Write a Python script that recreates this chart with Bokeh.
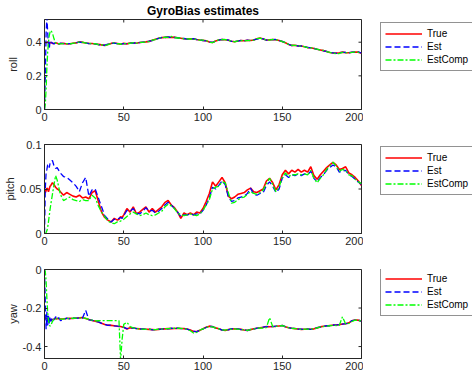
from bokeh.plotting import figure
from bokeh.models import Range1d, FixedTicker, Legend, LegendItem
from bokeh.layouts import column, row
from bokeh.embed import file_html
from bokeh.resources import INLINE

# ---------------- data ----------------
t = [0, 0.5, 1, 1.5, 2, 2.5, 3, 3.5, 4, 5, 6, 7, 8, 9, 10,
     12, 14, 16, 18, 20, 22, 24, 26, 28, 30, 32, 34, 36, 38, 40, 42, 44, 46,
     47, 48, 49,
     50, 52, 54, 56, 58, 60, 62, 64, 66, 68, 70, 72, 74,
     76, 78, 80, 82, 84, 86, 88, 90, 92, 94, 96, 98, 100,
     102, 104, 106, 108, 110, 112, 114, 116, 118, 120, 122, 124,
     126, 128, 130, 132, 134, 136, 138, 140, 142, 144, 146, 148, 150,
     152, 154, 156, 158, 160, 162, 164, 166, 168, 170, 172, 174,
     176, 178, 180, 182, 184, 186, 188, 190, 192, 194, 196, 198, 200]

roll_true = [0.400, 0.398, 0.396, 0.399, 0.401, 0.397, 0.394, 0.396, 0.399, 0.393, 0.392, 0.396, 0.394, 0.390, 0.392,
             0.393, 0.389, 0.391, 0.394, 0.396, 0.403, 0.399, 0.395, 0.393, 0.392, 0.389, 0.387, 0.384, 0.381, 0.386, 0.393, 0.395, 0.392,
             0.390, 0.388, 0.391,
             0.393, 0.390, 0.395, 0.397, 0.394, 0.398, 0.400, 0.402, 0.405, 0.411, 0.418, 0.424, 0.427,
             0.429, 0.430, 0.428, 0.430, 0.426, 0.424, 0.421, 0.419, 0.421, 0.420, 0.416, 0.413, 0.411,
             0.409, 0.401, 0.398, 0.407, 0.413, 0.416, 0.415, 0.412, 0.406, 0.403, 0.407, 0.410,
             0.409, 0.411, 0.410, 0.413, 0.420, 0.425, 0.419, 0.413, 0.414, 0.416, 0.415, 0.410, 0.404,
             0.397, 0.387, 0.381, 0.382, 0.378, 0.377, 0.373, 0.368, 0.367, 0.363, 0.358, 0.354,
             0.350, 0.345, 0.339, 0.336, 0.335, 0.337, 0.341, 0.338, 0.337, 0.340, 0.342, 0.341, 0.334]
roll_est = [0.0, 0.2, 0.45, 0.55, 0.46, 0.38, 0.36, 0.41, 0.405, 0.394, 0.390, 0.398, 0.392, 0.389, 0.394,
            0.392, 0.390, 0.392, 0.393, 0.397, 0.401, 0.398, 0.396, 0.392, 0.391, 0.390, 0.386, 0.383, 0.382, 0.388, 0.392, 0.394, 0.391,
            0.391, 0.389, 0.390,
            0.392, 0.391, 0.394, 0.396, 0.395, 0.397, 0.401, 0.401, 0.406, 0.410, 0.417, 0.423, 0.428,
            0.428, 0.431, 0.429, 0.428, 0.427, 0.423, 0.422, 0.418, 0.420, 0.421, 0.415, 0.414, 0.410,
            0.408, 0.402, 0.399, 0.406, 0.412, 0.417, 0.414, 0.413, 0.405, 0.404, 0.406, 0.411,
            0.408, 0.412, 0.409, 0.414, 0.419, 0.423, 0.420, 0.412, 0.415, 0.415, 0.416, 0.409, 0.405,
            0.396, 0.388, 0.380, 0.383, 0.377, 0.378, 0.372, 0.369, 0.366, 0.364, 0.357, 0.355,
            0.349, 0.346, 0.338, 0.337, 0.334, 0.338, 0.340, 0.339, 0.336, 0.341, 0.341, 0.342, 0.335]
roll_comp = [0.0, 0.03, 0.12, 0.25, 0.34, 0.40, 0.44, 0.46, 0.47, 0.455, 0.42, 0.395, 0.388, 0.392, 0.390,
             0.391, 0.392, 0.389, 0.395, 0.395, 0.402, 0.400, 0.394, 0.394, 0.390, 0.391, 0.385, 0.385, 0.380, 0.385, 0.392, 0.396, 0.390,
             0.392, 0.387, 0.392,
             0.391, 0.392, 0.393, 0.398, 0.393, 0.399, 0.399, 0.403, 0.404, 0.412, 0.416, 0.425, 0.426,
             0.430, 0.429, 0.434, 0.428, 0.425, 0.425, 0.420, 0.420, 0.419, 0.419, 0.417, 0.412, 0.412,
             0.410, 0.400, 0.397, 0.408, 0.414, 0.415, 0.416, 0.411, 0.407, 0.402, 0.408, 0.409,
             0.410, 0.410, 0.411, 0.412, 0.421, 0.424, 0.418, 0.414, 0.413, 0.417, 0.414, 0.411, 0.403,
             0.398, 0.386, 0.382, 0.381, 0.379, 0.376, 0.374, 0.367, 0.368, 0.362, 0.359, 0.353,
             0.351, 0.344, 0.340, 0.335, 0.332, 0.333, 0.340, 0.337, 0.338, 0.339, 0.343, 0.340, 0.333]

pitch_true = [0.049, 0.046, 0.048, 0.051, 0.050, 0.047, 0.050, 0.053, 0.054, 0.057, 0.055, 0.052, 0.050, 0.049, 0.047,
              0.043, 0.046, 0.044, 0.042, 0.041, 0.043, 0.040, 0.041, 0.039, 0.046, 0.048, 0.036, 0.024, 0.018, 0.015, 0.013, 0.017, 0.015,
              0.016, 0.019, 0.018,
              0.021, 0.028, 0.024, 0.030, 0.022, 0.024, 0.027, 0.030, 0.024, 0.028, 0.024, 0.027, 0.030,
              0.035, 0.037, 0.032, 0.029, 0.024, 0.017, 0.023, 0.021, 0.023, 0.021, 0.024, 0.023, 0.028,
              0.036, 0.045, 0.058, 0.053, 0.058, 0.063, 0.057, 0.042, 0.039, 0.041, 0.044, 0.045,
              0.046, 0.049, 0.051, 0.047, 0.046, 0.048, 0.050, 0.059, 0.062, 0.057, 0.049, 0.055, 0.066,
              0.071, 0.067, 0.071, 0.069, 0.072, 0.069, 0.071, 0.069, 0.075, 0.065, 0.061, 0.066,
              0.070, 0.074, 0.077, 0.080, 0.077, 0.072, 0.073, 0.075, 0.068, 0.066, 0.063, 0.059, 0.054]
pitch_est = [0.0, 0.05, 0.068, 0.072, 0.077, 0.078, 0.074, 0.079, 0.081, 0.082, 0.076, 0.073, 0.074, 0.071, 0.068,
             0.064, 0.063, 0.060, 0.057, 0.053, 0.047, 0.057, 0.063, 0.042, 0.049, 0.050, 0.040, 0.030, 0.020, 0.016, 0.013, 0.016, 0.016,
             0.017, 0.018, 0.017,
             0.020, 0.026, 0.025, 0.028, 0.023, 0.022, 0.025, 0.029, 0.025, 0.026, 0.023, 0.025, 0.028,
             0.032, 0.035, 0.032, 0.028, 0.024, 0.019, 0.021, 0.021, 0.022, 0.021, 0.022, 0.022, 0.026,
             0.032, 0.040, 0.052, 0.050, 0.054, 0.059, 0.055, 0.041, 0.036, 0.037, 0.040, 0.041,
             0.042, 0.045, 0.051, 0.044, 0.043, 0.045, 0.046, 0.054, 0.058, 0.053, 0.046, 0.050, 0.062,
             0.066, 0.063, 0.066, 0.065, 0.067, 0.065, 0.067, 0.066, 0.070, 0.062, 0.058, 0.063,
             0.066, 0.071, 0.074, 0.077, 0.075, 0.069, 0.070, 0.071, 0.066, 0.064, 0.061, 0.058, 0.055]
pitch_comp = [0.0, 0.0, 0.001, 0.003, 0.007, 0.013, 0.020, 0.027, 0.033, 0.044, 0.055, 0.065, 0.060, 0.052, 0.044,
              0.037, 0.039, 0.041, 0.038, 0.037, 0.036, 0.038, 0.037, 0.037, 0.043, 0.040, 0.031, 0.024, 0.019, 0.014, 0.012, 0.011, 0.013,
              0.013, 0.014, 0.015,
              0.016, 0.019, 0.022, 0.024, 0.022, 0.020, 0.021, 0.023, 0.021, 0.020, 0.021, 0.023, 0.025,
              0.030, 0.033, 0.031, 0.028, 0.023, 0.021, 0.020, 0.021, 0.022, 0.021, 0.020, 0.022, 0.026,
              0.032, 0.038, 0.050, 0.052, 0.053, 0.058, 0.057, 0.046, 0.034, 0.035, 0.038, 0.040,
              0.041, 0.044, 0.047, 0.045, 0.044, 0.046, 0.049, 0.056, 0.062, 0.055, 0.047, 0.052, 0.063,
              0.068, 0.064, 0.066, 0.066, 0.067, 0.066, 0.067, 0.066, 0.071, 0.062, 0.057, 0.062,
              0.066, 0.072, 0.076, 0.080, 0.076, 0.070, 0.072, 0.071, 0.066, 0.065, 0.061, 0.058, 0.056]

yaw_true = [-0.250, -0.252, -0.254, -0.256, -0.257, -0.258, -0.259, -0.260, -0.260, -0.261, -0.258, -0.255, -0.254, -0.256, -0.257,
            -0.256, -0.254, -0.253, -0.254, -0.252, -0.251, -0.249, -0.254, -0.260, -0.265, -0.268, -0.273, -0.279, -0.285, -0.289, -0.290, -0.292, -0.295,
            -0.296, -0.296, -0.298,
            -0.300, -0.309, -0.303, -0.304, -0.306, -0.308, -0.309, -0.310, -0.311, -0.312, -0.313, -0.311, -0.309,
            -0.308, -0.307, -0.307, -0.306, -0.305, -0.306, -0.307, -0.309, -0.314, -0.322, -0.322, -0.316, -0.308,
            -0.300, -0.294, -0.297, -0.303, -0.308, -0.314, -0.316, -0.312, -0.309, -0.308, -0.309, -0.311,
            -0.314, -0.316, -0.312, -0.308, -0.305, -0.303, -0.300, -0.296, -0.297, -0.296, -0.295, -0.293, -0.291,
            -0.297, -0.302, -0.305, -0.307, -0.309, -0.311, -0.310, -0.309, -0.310, -0.308, -0.303, -0.298,
            -0.295, -0.293, -0.291, -0.289, -0.288, -0.286, -0.283, -0.282, -0.277, -0.266, -0.262, -0.263, -0.268]
yaw_est = [0.0, -0.17, -0.31, -0.22, -0.29, -0.24, -0.28, -0.245, -0.27, -0.248, -0.262, -0.245, -0.258, -0.250, -0.265,
           -0.262, -0.252, -0.256, -0.251, -0.254, -0.250, -0.252, -0.212, -0.262, -0.263, -0.270, -0.272, -0.280, -0.284, -0.290, -0.289, -0.293, -0.294,
           -0.295, -0.297, -0.297,
           -0.301, -0.307, -0.305, -0.303, -0.307, -0.309, -0.308, -0.311, -0.310, -0.313, -0.312, -0.310, -0.310,
           -0.307, -0.308, -0.305, -0.307, -0.304, -0.307, -0.306, -0.310, -0.316, -0.320, -0.324, -0.314, -0.309,
           -0.301, -0.296, -0.296, -0.305, -0.307, -0.315, -0.315, -0.313, -0.307, -0.309, -0.308, -0.312,
           -0.313, -0.317, -0.311, -0.309, -0.304, -0.304, -0.299, -0.297, -0.296, -0.297, -0.294, -0.294, -0.290,
           -0.298, -0.301, -0.306, -0.306, -0.310, -0.310, -0.311, -0.308, -0.311, -0.307, -0.302, -0.299,
           -0.296, -0.292, -0.292, -0.288, -0.289, -0.285, -0.284, -0.281, -0.278, -0.265, -0.263, -0.262, -0.269]
yaw_comp = [0.0, -0.01, -0.06, -0.15, -0.22, -0.26, -0.285, -0.295, -0.29, -0.27, -0.258, -0.262, -0.252, -0.255, -0.258,
            -0.257, -0.254, -0.255, -0.253, -0.252, -0.252, -0.250, -0.254, -0.259, -0.263, -0.267, -0.266, -0.265, -0.265, -0.265, -0.265, -0.265, -0.265,
            -0.266, -0.47, -0.36,
            -0.285, -0.274, -0.296, -0.303, -0.307, -0.309, -0.309, -0.311, -0.310, -0.312, -0.312, -0.310, -0.309,
            -0.307, -0.307, -0.306, -0.305, -0.305, -0.306, -0.307, -0.310, -0.318, -0.330, -0.326, -0.315, -0.308,
            -0.301, -0.296, -0.298, -0.304, -0.308, -0.313, -0.315, -0.312, -0.309, -0.308, -0.310, -0.311,
            -0.314, -0.316, -0.312, -0.308, -0.306, -0.303, -0.304, -0.302, -0.250, -0.297, -0.295, -0.293, -0.291,
            -0.297, -0.302, -0.305, -0.307, -0.309, -0.311, -0.310, -0.309, -0.310, -0.308, -0.303, -0.298,
            -0.296, -0.294, -0.292, -0.290, -0.291, -0.290, -0.245, -0.283, -0.280, -0.270, -0.263, -0.264, -0.268]

x_ticks = [0, 50, 100, 150, 200]
x_tick_labels = ["0", "50", "100", "150", "200"]
roll_ticks = [0, 0.2, 0.4]
roll_tick_labels = ["0", "0.2", "0.4"]
pitch_ticks = [0, 0.05, 0.1]
pitch_tick_labels = ["0", "0.05", "0.1"]
yaw_ticks = [-0.4, -0.2, 0]
yaw_tick_labels = ["-0.4", "-0.2", "0"]
series_names = ["True", "Est", "EstComp"]
title_text = "GyroBias estimates"

for _name, _arr in [("roll_true", roll_true), ("roll_est", roll_est), ("roll_comp", roll_comp),
                    ("pitch_true", pitch_true), ("pitch_est", pitch_est), ("pitch_comp", pitch_comp),
                    ("yaw_true", yaw_true), ("yaw_est", yaw_est), ("yaw_comp", yaw_comp)]:
    assert len(_arr) == len(t), (_name, len(_arr), len(t))

# ---------------- styling ----------------
AX = "#262626"
FONT = "Liberation Sans"
COLORS = ["#ff0000", "#0000ff", "#00ff00"]
DASHES = ["solid", "6 3", "6 2 2 2"]
WIDTHS = [1.6, 1.3, 1.3]
TICK_PX = 3
X0, X1 = 0, 200
BORDER_L, FRAME_W, BORDER_R = 44, 317, 2
MAIN_W = BORDER_L + FRAME_W + BORDER_R
LEG_W = 472 - MAIN_W
NAN = float("nan")


def make_row(ylabel, yr, yticks, yticklabels, height, top, bottom, label_standoff,
             series, legend_y, title=None):
    frame_h = height - top - bottom
    p = figure(width=MAIN_W, height=height, x_range=Range1d(X0, X1), y_range=Range1d(*yr),
               output_backend="svg", toolbar_location=None, title=title,
               min_border_left=BORDER_L, min_border_right=BORDER_R,
               min_border_top=top, min_border_bottom=bottom,
               background_fill_color="white", border_fill_color="white",
               outline_line_color=AX, outline_line_width=1)
    p.xgrid.visible = False
    p.ygrid.visible = False

    for ax, ticks, labels in [(p.xaxis[0], x_ticks, x_tick_labels), (p.yaxis[0], yticks, yticklabels)]:
        ax.ticker = FixedTicker(ticks=ticks)
        ax.major_label_overrides = {v: s for v, s in zip(ticks, labels)}
        ax.major_tick_in = TICK_PX
        ax.major_tick_out = 0
        ax.minor_tick_in = 0
        ax.minor_tick_out = 0
        ax.major_label_standoff = 3
        ax.axis_line_color = AX
        ax.major_tick_line_color = AX
        ax.major_label_text_font = FONT
        ax.major_label_text_font_size = "11px"
        ax.major_label_text_color = AX
    p.yaxis.axis_label = ylabel
    p.yaxis.axis_label_text_font = FONT
    p.yaxis.axis_label_text_font_size = "11px"
    p.yaxis.axis_label_text_font_style = "normal"
    p.yaxis.axis_label_text_color = AX
    p.yaxis.axis_label_standoff = label_standoff

    # MATLAB "box on": ticks also on the top and right edges (from the tick arrays)
    dy = (yr[1] - yr[0]) * TICK_PX / frame_h
    dx = (X1 - X0) * TICK_PX / FRAME_W
    p.segment(x0=x_ticks, y0=[yr[1]] * len(x_ticks), x1=x_ticks, y1=[yr[1] - dy] * len(x_ticks),
              line_color=AX, line_width=1)
    p.segment(x0=[X1] * len(yticks), y0=yticks, x1=[X1 - dx] * len(yticks), y1=yticks,
              line_color=AX, line_width=1)

    for ys, c, d, w in zip(series, COLORS, DASHES, WIDTHS):
        p.line(t, ys, line_color=c, line_width=w, line_dash=d)

    if title is not None:
        p.title.text_font = FONT
        p.title.text_font_size = "12px"
        p.title.text_font_style = "bold"
        p.title.align = "center"
        p.title.text_color = "#000000"
        p.title.standoff = 3

    # legend lives in its own small figure to the right of the axes
    q = figure(width=LEG_W, height=height, x_range=Range1d(0, 1), y_range=Range1d(0, 1),
               output_backend="svg", toolbar_location=None,
               x_axis_type=None, y_axis_type=None, min_border=0,
               background_fill_color="white", border_fill_color="white",
               outline_line_color=None)
    q.xgrid.visible = False
    q.ygrid.visible = False
    proxies = [q.line([0, 1], [NAN, NAN], line_color=c, line_width=w, line_dash=d)
               for c, d, w in zip(COLORS, DASHES, WIDTHS)]
    leg = Legend(items=[LegendItem(label=n, renderers=[r]) for n, r in zip(series_names, proxies)],
                 location=(17, legend_y), margin=0, padding=4, spacing=0,
                 glyph_width=37, glyph_height=13, label_height=13, label_standoff=5,
                 label_text_font=FONT, label_text_font_size="10px", label_text_color="#000000",
                 border_line_color=AX, border_line_width=1,
                 background_fill_color="white", background_fill_alpha=1.0)
    q.add_layout(leg)
    return row(p, q, spacing=0)


r1 = make_row("roll", (0, 0.535), roll_ticks, roll_tick_labels, 126, 19, 17, 4,
              [roll_true, roll_est, roll_comp], 38, title=title_text)
r2 = make_row("pitch", (0, 0.1), pitch_ticks, pitch_tick_labels, 124, 18, 17, 1,
              [pitch_true, pitch_est, pitch_comp], 38)
r3 = make_row("yaw", (-0.462, 0), yaw_ticks, yaw_tick_labels, 129, 19, 21, 1,
              [yaw_true, yaw_est, yaw_comp], 42)

layout = column(r1, r2, r3, spacing=0)

open("out.html", "w").write(file_html(layout, INLINE))
